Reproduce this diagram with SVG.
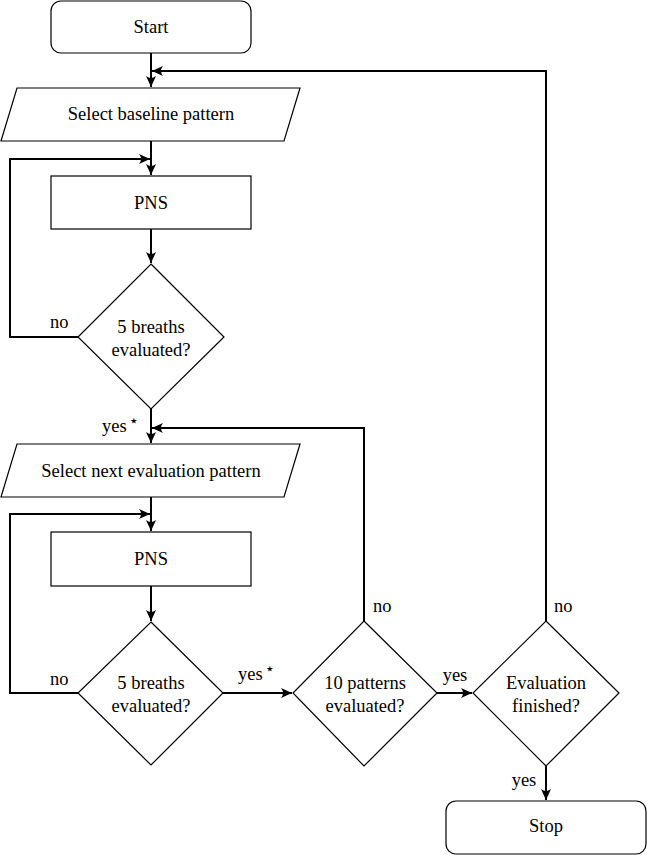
<svg xmlns="http://www.w3.org/2000/svg" width="647" height="855" viewBox="0 0 647 855">
<style>
.shape{fill:#fff;stroke:#000;stroke-width:1.2}
.conn{fill:none;stroke:#000;stroke-width:2}
text{font-family:Liberation Serif,DejaVu Serif,serif;font-size:18.5px;fill:#000}
.c{text-anchor:middle}
.star{font-family:DejaVu Sans,sans-serif;font-size:16px}
</style>
<defs>
<marker id="arr" viewBox="-11 -6 12 12" refX="0" refY="0" markerWidth="12" markerHeight="12" markerUnits="userSpaceOnUse" orient="auto">
<path d="M0,0 L-11,-5 Q-7,0 -11,5 Z" fill="#000"/>
</marker>
</defs>
<rect width="647" height="855" fill="#fff"/>
<g id="connectors">
<path class="conn" d="M151,53 L151,87" marker-end="url(#arr)"/>
<path class="conn" d="M546,621 L546,71 L152,71" marker-end="url(#arr)"/>
<path class="conn" d="M151,141 L151,175" marker-end="url(#arr)"/>
<path class="conn" d="M78,337 L10,337 L10,159 L150,159" marker-end="url(#arr)"/>
<path class="conn" d="M151,229 L151,263" marker-end="url(#arr)"/>
<path class="conn" d="M151,409 L151,443" marker-end="url(#arr)"/>
<path class="conn" d="M364,621 L364,428 L152,428" marker-end="url(#arr)"/>
<path class="conn" d="M151,497 L151,531" marker-end="url(#arr)"/>
<path class="conn" d="M78,693 L10,693 L10,514 L150,514" marker-end="url(#arr)"/>
<path class="conn" d="M151,586 L151,621" marker-end="url(#arr)"/>
<path class="conn" d="M223,693 L292,693" marker-end="url(#arr)"/>
<path class="conn" d="M437,693 L472,693" marker-end="url(#arr)"/>
<path class="conn" d="M546,766 L546,800" marker-end="url(#arr)"/>
<text x="50" y="328">no</text>
<text x="102" y="432">yes<tspan class="star" dx="2" dy="-6">⋆</tspan></text>
<text x="50" y="685">no</text>
<text x="238" y="680">yes<tspan class="star" dx="2" dy="-6">⋆</tspan></text>
<text x="373" y="612">no</text>
<text x="455" y="681" class="c">yes</text>
<text x="554" y="612">no</text>
<text x="524" y="786" class="c">yes</text>
</g>
<g id="start">
<rect class="shape" x="51" y="1" width="200" height="52" rx="10"/>
<text x="151" y="33" class="c">Start</text>
</g>
<g id="select-baseline">
<polygon class="shape" points="17,88 300,88 284,141 1,141"/>
<text x="151" y="120" class="c">Select baseline pattern</text>
</g>
<g id="pns1">
<rect class="shape" x="51" y="176" width="200" height="53"/>
<text x="151" y="209" class="c">PNS</text>
</g>
<g id="breaths1">
<polygon class="shape" points="151,264 224,337 151,409 78,337"/>
<text x="151" y="333" class="c">5 breaths</text>
<text x="151" y="356" class="c">evaluated?</text>
</g>
<g id="select-next">
<polygon class="shape" points="17,444 300,444 284,497 1,497"/>
<text x="151" y="477" class="c">Select next evaluation pattern</text>
</g>
<g id="pns2">
<rect class="shape" x="51" y="532" width="200" height="54"/>
<text x="151" y="565" class="c">PNS</text>
</g>
<g id="breaths2">
<polygon class="shape" points="151,622 223,693 151,765 78,693"/>
<text x="151" y="689" class="c">5 breaths</text>
<text x="151" y="712" class="c">evaluated?</text>
</g>
<g id="patterns">
<polygon class="shape" points="364,621 437,693 364,766 293,693"/>
<text x="365" y="689" class="c">10 patterns</text>
<text x="365" y="712" class="c">evaluated?</text>
</g>
<g id="finished">
<polygon class="shape" points="546,621 619,693 546,766 473,693"/>
<text x="546" y="689" class="c">Evaluation</text>
<text x="546" y="712" class="c">finished?</text>
</g>
<g id="stop">
<rect class="shape" x="446" y="801" width="200" height="53" rx="10"/>
<text x="546" y="832" class="c">Stop</text>
</g>
</svg>
